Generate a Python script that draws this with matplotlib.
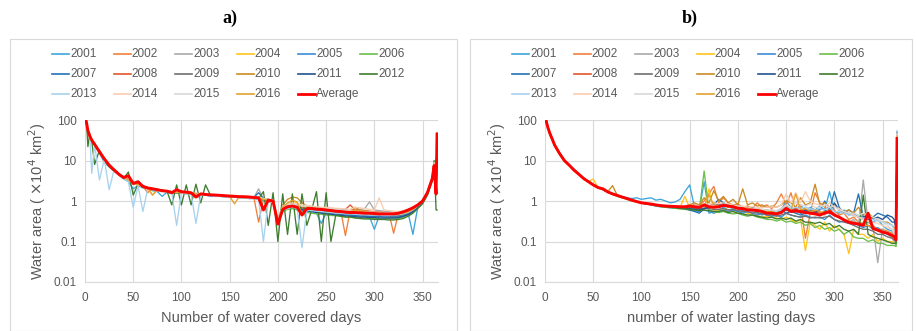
import matplotlib.pyplot as plt
from matplotlib.patches import Rectangle
from matplotlib.lines import Line2D

# day grid shared by every series (both panels)
days = [1, 2, 3, 5, 7, 10, 15, 20, 25, 30,
        35, 40, 45, 50, 55, 60, 65, 70, 75, 80,
        85, 90, 95, 100, 105, 110, 115, 120, 125, 130,
        135, 140, 145, 150, 155, 160, 165, 170, 175, 180,
        185, 190, 195, 200, 205, 210, 215, 220, 225, 230,
        235, 240, 245, 250, 255, 260, 265, 270, 275, 280,
        285, 290, 295, 300, 305, 310, 315, 320, 325, 330,
        335, 340, 345, 350, 355, 360, 362, 364, 365]

years = ['2001', '2002', '2003', '2004', '2005', '2006', '2007', '2008',
         '2009', '2010', '2011', '2012', '2013', '2014', '2015', '2016']
colors = ['#3DA5DC', '#F07F3C', '#A9A9A9', '#FFC51A', '#3D8CD6', '#6DBE4B',
          '#2272B4', '#E2572A', '#707070', '#C98B23', '#22528E', '#3E7C2E',
          '#A8D2EE', '#F9CDB0', '#D8D8D8', '#E3A12F']

# ---- panel a: number of water covered days ----
avg_a = [100, 75, 55, 40, 32, 25, 16.5, 11, 7.7, 5.9,
         4.6, 3.8, 4.2, 2.7, 3.0, 2.3, 2.1, 2.0, 1.9, 1.8,
         1.75, 1.6, 1.9, 1.7, 1.65, 1.6, 1.25, 1.5, 1.45, 1.42,
         1.4, 1.38, 1.35, 1.32, 1.3, 1.28, 1.27, 1.25, 1.22, 1.2,
         0.6, 1.05, 1.0, 0.27, 0.62, 0.72, 0.75, 0.7, 0.45, 0.65,
         0.65, 0.63, 0.62, 0.6, 0.58, 0.56, 0.55, 0.53, 0.52, 0.52,
         0.51, 0.5, 0.5, 0.49, 0.48, 0.48, 0.48, 0.48, 0.5, 0.54,
         0.6, 0.68, 0.8, 1.0, 1.6, 3.5, 7.5, 1.5, 45]
a_2001 = [95, 70, 52, 38, 30, 24, 15, 9, 7, 5.5,
          4.4, 3.5, 3.0, 2.0, 2.4, 2.1, 2.0, 1.8, 1.7, 1.3,
          1.65, 1.5, 1.7, 1.6, 1.5, 1.55, 1.4, 1.45, 1.4, 1.3,
          1.3, 1.3, 1.25, 1.25, 1.25, 1.2, 1.2, 1.15, 1.15, 1.1,
          1.0, 1.0, 0.9, 0.3, 0.6, 0.65, 0.7, 0.6, 0.55, 0.55,
          0.55, 0.5, 0.28, 0.5, 0.48, 0.47, 0.45, 0.45, 0.44, 0.43,
          0.42, 0.42, 0.41, 0.2, 0.42, 0.42, 0.42, 0.42, 0.43, 0.45,
          0.5, 0.15, 0.7, 0.95, 1.6, 3.5, 8, 2, 48]
a_2002 = [100, 78, 56, 41, 33, 26, 17, 11.5, 8, 6,
          4.8, 3.9, 3.3, 2.9, 2.6, 2.3, 1.6, 2.05, 1.95, 1.85,
          1.75, 1.7, 1.65, 1.7, 1.6, 1.6, 1.55, 1.5, 1.45, 1.42,
          1.4, 1.38, 1.35, 1.35, 1.35, 1.32, 1.3, 1.3, 1.25, 0.3,
          1.1, 1.05, 1.0, 0.35, 0.7, 0.8, 0.85, 0.8, 0.7, 0.7,
          0.7, 0.68, 0.68, 0.66, 0.64, 0.62, 0.6, 0.14, 0.6, 0.62,
          0.6, 0.58, 0.56, 0.55, 0.54, 0.53, 0.52, 0.16, 0.5, 0.52,
          0.55, 0.65, 0.8, 1.0, 1.6, 3.8, 8, 1.5, 46]
a_2003 = [100, 74, 54, 40, 31, 25, 16, 11, 7.6, 5.8,
          4.5, 3.8, 3.2, 2.8, 2.5, 2.3, 2.1, 2.0, 1.9, 1.8,
          1.7, 1.6, 1.6, 1.6, 1.55, 1.5, 1.5, 1.45, 1.4, 1.4,
          1.35, 1.35, 1.3, 1.3, 1.3, 1.3, 1.25, 1.25, 1.2, 2.0,
          1.1, 1.05, 1.0, 0.3, 0.65, 0.75, 0.8, 0.75, 0.7, 0.7,
          0.68, 0.66, 0.65, 0.63, 0.62, 0.6, 0.6, 0.58, 0.58, 0.6,
          0.62, 0.65, 0.95, 0.6, 0.58, 0.56, 0.55, 0.52, 0.5, 0.52,
          0.55, 0.65, 0.8, 1.0, 1.7, 4, 9, 1.5, 45]
a_2004 = [100, 76, 55, 40, 32, 25, 16, 11, 7.5, 5.8,
          4.5, 3.7, 3.2, 2.8, 2.5, 2.3, 2.1, 1.4, 1.9, 1.8,
          1.7, 1.65, 1.6, 1.6, 1.55, 1.5, 1.5, 1.45, 1.4, 1.4,
          1.35, 1.3, 1.3, 1.3, 1.25, 1.25, 1.2, 1.2, 1.2, 1.15,
          1.1, 1.0, 0.95, 0.3, 0.7, 0.85, 1.0, 0.9, 0.75, 0.65,
          0.62, 0.6, 0.58, 0.56, 0.55, 0.54, 0.52, 0.5, 0.5, 0.48,
          0.48, 0.47, 0.46, 0.45, 0.45, 0.44, 0.44, 0.44, 0.45, 0.48,
          0.52, 0.6, 0.75, 0.95, 1.5, 3.5, 7, 1.5, 44]
a_2005 = [100, 75, 55, 40, 32, 25, 16.5, 11, 7.7, 6,
          4.6, 3.8, 3.3, 2.8, 2.5, 2.3, 2.1, 2.0, 1.9, 1.8,
          1.75, 1.7, 1.6, 1.65, 1.6, 1.55, 1.5, 1.45, 1.45, 1.4,
          1.4, 1.35, 1.35, 1.3, 1.3, 1.3, 1.25, 1.25, 1.2, 1.2,
          1.1, 1.0, 0.95, 0.35, 0.6, 0.7, 0.72, 0.68, 0.62, 0.6,
          0.58, 0.56, 0.55, 0.53, 0.52, 0.5, 0.5, 0.48, 0.47, 0.46,
          0.46, 0.45, 0.45, 0.44, 0.44, 0.43, 0.43, 0.42, 0.43, 0.46,
          0.5, 0.58, 0.72, 0.92, 1.5, 3.6, 7.5, 1.5, 46]
a_2006 = [100, 75, 55, 40, 31, 24, 16, 10.5, 7.5, 5.7,
          4.5, 3.7, 3.2, 2.8, 2.5, 2.3, 2.1, 2.0, 1.9, 1.8,
          1.7, 1.65, 1.6, 1.6, 1.55, 1.5, 1.5, 1.45, 1.4, 1.4,
          1.35, 1.35, 1.3, 1.3, 1.25, 1.25, 1.2, 1.2, 1.15, 1.15,
          1.05, 0.95, 0.9, 0.3, 0.55, 0.62, 0.65, 0.6, 0.55, 0.52,
          0.5, 0.48, 0.47, 0.45, 0.44, 0.43, 0.42, 0.41, 0.4, 0.39,
          0.38, 0.38, 0.37, 0.37, 0.36, 0.36, 0.36, 0.36, 0.37, 0.4,
          0.45, 0.55, 0.7, 0.9, 1.4, 3.2, 7, 1.4, 44]
a_2007 = [100, 75, 55, 40, 32, 25, 16.5, 11, 7.8, 6,
          4.7, 3.9, 3.3, 2.9, 2.6, 2.35, 2.15, 2.0, 1.9, 1.85,
          1.75, 1.7, 1.65, 1.65, 1.6, 1.55, 1.5, 1.5, 1.45, 1.42,
          1.4, 1.38, 1.35, 1.32, 1.3, 1.3, 1.28, 1.25, 1.22, 1.6,
          1.15, 1.1, 1.05, 0.3, 0.62, 0.7, 0.72, 0.68, 0.62, 0.6,
          0.57, 0.55, 0.53, 0.52, 0.5, 0.48, 0.47, 0.46, 0.45, 0.44,
          0.43, 0.42, 0.42, 0.41, 0.41, 0.4, 0.4, 0.4, 0.4, 0.42,
          0.47, 0.55, 0.7, 0.9, 1.5, 3.5, 7.5, 1.5, 46]
a_2008 = [100, 76, 56, 41, 32, 25, 16.5, 11, 7.7, 5.9,
          4.6, 3.8, 3.3, 2.8, 2.5, 2.3, 2.1, 2.0, 1.9, 1.8,
          1.75, 1.7, 1.65, 1.6, 1.6, 1.55, 1.5, 1.5, 1.45, 1.4,
          1.4, 1.35, 1.35, 1.3, 1.3, 1.3, 1.25, 1.25, 1.2, 1.2,
          1.1, 1.05, 1.0, 0.3, 0.65, 0.72, 0.75, 0.72, 0.68, 0.66,
          0.65, 0.64, 0.62, 0.6, 0.6, 0.58, 0.58, 0.62, 0.8, 0.6,
          0.58, 0.56, 0.55, 0.54, 0.52, 0.52, 0.5, 0.5, 0.5, 0.52,
          0.56, 0.65, 0.8, 1.0, 1.6, 3.8, 8, 1.5, 46]
a_2009 = [100, 75, 55, 40, 32, 25, 16, 11, 7.6, 5.8,
          4.5, 3.8, 3.2, 2.8, 2.5, 2.3, 2.1, 2.0, 1.9, 1.8,
          1.7, 1.65, 1.6, 1.6, 1.55, 1.5, 1.5, 1.45, 1.4, 1.4,
          1.35, 1.35, 1.3, 1.3, 1.3, 1.25, 1.25, 1.2, 1.2, 1.2,
          1.1, 1.0, 0.95, 0.3, 0.6, 0.7, 0.72, 0.7, 0.65, 0.62,
          0.6, 0.58, 0.56, 0.55, 0.53, 0.52, 0.5, 0.5, 0.48, 0.47,
          0.46, 0.46, 0.45, 0.45, 0.44, 0.44, 0.43, 0.43, 0.44, 0.46,
          0.5, 0.58, 0.72, 0.95, 1.5, 3.6, 7.5, 1.5, 45]
a_2010 = [100, 75, 55, 40, 32, 25, 16.5, 11, 7.7, 5.9,
          4.6, 3.8, 3.3, 2.8, 2.5, 2.3, 2.1, 2.0, 1.9, 1.8,
          1.75, 1.7, 1.65, 1.6, 1.55, 1.55, 1.5, 1.5, 1.45, 1.42,
          1.4, 1.35, 1.35, 1.3, 1.3, 1.3, 1.25, 1.25, 1.2, 1.2,
          1.1, 1.0, 1.0, 0.35, 0.8, 1.1, 1.25, 1.2, 0.9, 0.75,
          0.7, 0.68, 0.66, 0.64, 0.62, 0.6, 0.58, 0.56, 0.6, 0.7,
          0.6, 0.56, 0.54, 0.52, 0.5, 0.5, 0.49, 0.48, 0.48, 0.5,
          0.54, 0.62, 0.78, 1.0, 1.6, 3.8, 8, 1.5, 46]
a_2011 = [100, 75, 55, 40, 32, 25, 16.5, 11, 7.7, 5.9,
          4.6, 3.8, 3.3, 2.8, 2.5, 2.3, 2.1, 2.0, 1.9, 1.8,
          1.75, 1.7, 1.65, 1.6, 1.6, 1.55, 1.5, 1.5, 1.45, 1.42,
          1.4, 1.38, 1.35, 1.32, 1.3, 1.3, 1.28, 1.25, 1.22, 1.2,
          1.1, 1.05, 1.0, 0.3, 0.6, 0.68, 0.7, 0.66, 0.6, 0.57,
          0.55, 0.52, 0.5, 0.48, 0.47, 0.45, 0.44, 0.43, 0.42, 0.41,
          0.4, 0.4, 0.39, 0.39, 0.38, 0.38, 0.38, 0.38, 0.39, 0.42,
          0.46, 0.55, 0.7, 0.9, 1.5, 3.5, 7.5, 1.5, 45]
a_2012 = [120, 60, 22, 45, 30, 8, 18, 10, 7, 5.5,
          4.5, 3.6, 5.2, 1.4, 2.6, 2.2, 2.1, 2.0, 1.9, 1.8,
          1.75, 0.8, 2.5, 0.8, 2.5, 0.8, 2.6, 0.9, 2.5, 1.4,
          1.4, 1.35, 1.3, 1.3, 1.3, 1.25, 1.25, 1.2, 1.2, 1.15,
          1.7, 0.25, 1.6, 0.1, 1.5, 0.15, 1.5, 0.15, 1.5, 0.25,
          0.6, 1.7, 0.1, 1.6, 0.1, 0.45, 0.42, 0.4, 0.4, 0.38,
          0.37, 0.36, 0.36, 0.35, 0.35, 0.35, 0.34, 0.34, 0.35, 0.37,
          0.42, 0.5, 0.65, 0.85, 1.4, 3.2, 10, 0.6, 0.6]
a_2013 = [100, 75, 55, 40, 4.8, 25, 3.3, 11, 1.9, 5.6,
          4.4, 3.6, 3.0, 0.7, 2.4, 0.55, 2.0, 1.9, 1.8, 1.7,
          1.7, 1.6, 0.25, 1.6, 1.5, 1.5, 0.28, 1.4, 1.4, 1.35,
          1.3, 1.3, 1.25, 1.25, 1.25, 1.2, 1.2, 1.15, 1.15, 1.1,
          0.1, 1.0, 0.9, 0.3, 0.6, 0.65, 0.7, 0.65, 0.07, 0.6,
          0.58, 0.56, 0.55, 0.53, 0.52, 0.5, 0.5, 0.48, 0.48, 0.47,
          0.46, 0.46, 0.45, 0.45, 0.45, 0.44, 0.44, 0.45, 0.46, 0.48,
          0.52, 0.6, 0.75, 0.95, 1.5, 3.5, 8, 1.5, 47]
a_2014 = [100, 75, 55, 40, 32, 25, 16.5, 11, 7.7, 5.9,
          4.6, 3.8, 3.3, 2.8, 2.5, 2.3, 2.1, 2.0, 1.9, 1.8,
          1.75, 1.7, 1.65, 1.65, 1.6, 1.55, 1.55, 1.5, 1.5, 1.45,
          1.45, 1.42, 1.4, 1.4, 1.38, 1.35, 1.35, 1.3, 1.3, 1.25,
          1.15, 1.1, 1.05, 0.35, 0.75, 0.85, 0.9, 0.85, 0.8, 0.78,
          0.75, 0.72, 0.7, 0.7, 0.68, 0.66, 0.65, 0.64, 0.62, 0.7,
          0.68, 0.65, 0.62, 0.6, 1.2, 0.6, 0.58, 0.56, 0.55, 0.57,
          0.6, 0.68, 0.82, 1.05, 1.7, 4, 9, 1.6, 48]
a_2015 = [100, 75, 55, 40, 32, 25, 16.5, 11, 7.7, 5.9,
          4.6, 3.8, 3.3, 2.8, 2.5, 2.3, 2.1, 2.0, 1.9, 1.8,
          1.75, 1.7, 1.65, 1.6, 1.6, 1.55, 1.5, 1.5, 1.45, 1.42,
          1.4, 1.4, 1.38, 1.36, 1.35, 1.32, 1.3, 1.28, 1.25, 1.22,
          1.12, 1.08, 1.02, 0.3, 0.7, 0.8, 0.82, 0.8, 0.75, 0.72,
          0.7, 0.68, 0.66, 0.65, 0.64, 0.62, 0.6, 0.6, 0.58, 0.57,
          0.56, 0.55, 0.54, 0.53, 0.52, 0.52, 0.51, 0.5, 0.5, 0.52,
          0.56, 0.64, 0.78, 1.0, 1.6, 3.8, 8, 1.5, 46]
a_2016 = [100, 75, 55, 40, 32, 25, 16.5, 11, 7.7, 5.9,
          4.6, 3.8, 3.3, 2.8, 2.5, 2.3, 2.1, 1.4, 1.9, 1.8,
          1.75, 1.7, 1.65, 1.6, 1.6, 1.55, 1.5, 1.5, 1.45, 1.4,
          1.4, 1.35, 1.35, 1.3, 0.85, 1.3, 1.25, 1.25, 1.2, 1.2,
          1.1, 1.05, 1.0, 0.3, 0.7, 0.9, 1.05, 0.95, 0.45, 0.7,
          0.68, 0.66, 0.64, 0.62, 0.6, 0.58, 0.56, 0.55, 0.55, 0.6,
          0.56, 0.54, 0.52, 0.5, 0.5, 0.5, 0.48, 0.48, 0.48, 0.5,
          0.54, 0.62, 0.78, 0.98, 1.6, 3.7, 8, 1.5, 46]

# ---- panel b: number of water lasting days ----
avg_b = [100, 80, 65, 47, 36, 24, 15, 10, 7.7, 5.8,
         4.6, 3.6, 3.0, 2.5, 2.15, 2.0, 1.68, 1.5, 1.37, 1.25,
         1.15, 1.05, 0.97, 0.9, 0.87, 0.84, 0.8, 0.77, 0.75, 0.74,
         0.73, 0.72, 0.72, 0.75, 0.72, 0.7, 0.8, 0.72, 0.7, 0.72,
         0.78, 0.75, 0.72, 0.66, 0.65, 0.6, 0.6, 0.58, 0.55, 0.5,
         0.5, 0.48, 0.52, 0.66, 0.55, 0.57, 0.55, 0.52, 0.5, 0.48,
         0.45, 0.5, 0.55, 0.45, 0.4, 0.34, 0.3, 0.28, 0.27, 0.25,
         0.5, 0.21, 0.19, 0.17, 0.16, 0.14, 0.13, 0.11, 35]
b_2001 = [105, 82, 66, 48, 36, 24, 15, 10, 7.8, 6.2,
          4.7, 3.7, 3.0, 2.5, 2.15, 1.9, 1.68, 1.5, 1.38, 1.28,
          1.2, 1.15, 1.2, 1.1, 1.15, 1.2, 1.05, 1.1, 1.0, 0.9,
          0.95, 1.1, 1.7, 2.5, 0.7, 0.6, 3.0, 0.5, 0.55, 0.6,
          0.7, 0.6, 0.65, 0.55, 0.6, 0.5, 0.55, 0.5, 0.45, 0.5,
          0.45, 0.55, 0.6, 1.0, 0.7, 0.6, 0.8, 0.55, 0.7, 0.6,
          0.75, 0.6, 1.7, 0.55, 0.5, 0.6, 0.45, 0.5, 0.4, 0.35,
          0.4, 0.3, 0.35, 0.25, 0.2, 0.18, 0.15, 0.12, 50]
b_2002 = [100, 80, 65, 47, 36, 24, 15, 10, 7.7, 5.8,
          4.6, 3.6, 3.0, 2.5, 2.15, 1.9, 1.68, 1.5, 1.37, 1.25,
          1.15, 1.05, 0.97, 0.9, 0.87, 0.84, 0.8, 0.78, 0.75, 0.74,
          0.74, 0.73, 0.75, 0.78, 0.8, 0.75, 1.0, 1.5, 2.3, 0.9,
          1.2, 0.9, 0.8, 0.85, 0.7, 0.75, 0.65, 0.9, 0.7, 0.8,
          0.65, 0.9, 1.5, 0.8, 1.6, 0.6, 0.8, 0.12, 0.5, 1.6,
          0.9, 0.7, 0.6, 0.6, 0.45, 0.5, 0.35, 0.4, 0.3, 0.28,
          0.3, 0.25, 0.2, 0.2, 0.18, 0.16, 0.14, 0.12, 45]
b_2003 = [100, 80, 65, 47, 36, 24, 15, 10, 7.7, 5.8,
          4.6, 3.6, 3.0, 2.5, 2.15, 1.9, 1.68, 1.5, 1.37, 1.25,
          1.15, 1.05, 0.97, 0.9, 0.87, 0.84, 0.8, 0.77, 0.75, 0.74,
          0.73, 0.72, 0.72, 0.73, 0.72, 0.7, 0.72, 0.75, 0.8, 0.7,
          0.75, 0.72, 0.7, 0.65, 0.6, 0.62, 0.55, 0.6, 0.55, 0.5,
          0.55, 0.5, 0.6, 0.7, 0.6, 0.5, 0.55, 0.6, 0.5, 0.5,
          0.55, 0.45, 0.6, 0.5, 0.4, 0.35, 0.3, 0.35, 0.25, 3.3,
          0.3, 0.25, 0.03, 0.2, 0.15, 0.12, 0.1, 0.08, 40]
b_2004 = [100, 80, 65, 47, 36, 24, 15, 10, 7.7, 5.8,
          4.6, 3.6, 3.0, 3.5, 2.1, 1.9, 1.68, 1.5, 1.37, 1.25,
          1.15, 1.05, 0.97, 0.9, 0.86, 0.82, 0.78, 0.75, 0.72, 0.7,
          0.75, 0.7, 1.3, 0.68, 0.6, 0.65, 0.6, 2.0, 0.55, 0.6,
          0.65, 0.6, 0.55, 0.5, 0.55, 0.5, 0.45, 0.45, 0.4, 0.42,
          0.4, 0.38, 0.35, 0.4, 0.35, 0.3, 0.35, 0.06, 0.3, 0.25,
          0.2, 0.3, 0.18, 0.25, 0.2, 0.15, 0.05, 0.2, 0.15, 0.15,
          0.12, 0.15, 0.1, 0.12, 0.1, 0.1, 0.09, 0.09, 30]
b_2005 = [100, 80, 65, 47, 36, 24, 15, 10, 7.7, 5.8,
          4.6, 3.6, 3.0, 2.5, 2.15, 1.9, 1.68, 1.5, 1.37, 1.25,
          1.15, 1.05, 0.97, 0.9, 0.85, 0.8, 0.75, 0.72, 0.7, 0.68,
          0.66, 0.65, 0.64, 0.6, 0.58, 0.55, 0.6, 0.55, 0.5, 0.55,
          0.6, 0.55, 0.6, 0.55, 0.5, 0.55, 0.5, 0.45, 0.5, 0.45,
          0.42, 0.45, 0.4, 0.5, 0.45, 0.42, 0.4, 0.45, 0.4, 0.38,
          0.4, 0.35, 0.45, 0.35, 0.3, 0.32, 0.28, 0.3, 0.25, 0.22,
          0.25, 0.2, 0.22, 0.18, 0.15, 0.14, 0.13, 0.11, 45]
b_2006 = [100, 80, 65, 47, 36, 24, 15, 10, 7.7, 5.8,
          4.6, 3.6, 3.0, 2.5, 2.15, 1.9, 1.65, 1.45, 1.3, 1.2,
          1.1, 1.0, 0.95, 0.88, 0.84, 0.8, 0.76, 0.72, 0.7, 0.68,
          0.66, 0.64, 0.62, 0.6, 0.58, 0.6, 5.5, 0.6, 0.55, 0.52,
          0.55, 0.5, 0.48, 0.5, 0.45, 0.42, 0.45, 0.4, 0.38, 0.35,
          0.35, 0.32, 0.35, 0.3, 0.32, 0.28, 0.3, 0.25, 0.28, 0.22,
          0.25, 0.2, 0.22, 0.18, 0.2, 0.15, 0.18, 0.13, 0.12, 0.12,
          0.1, 0.11, 0.09, 0.09, 0.08, 0.08, 0.08, 0.075, 40]
b_2007 = [100, 80, 65, 47, 36, 24, 15.5, 10.5, 7.9, 6,
          4.7, 3.7, 3.0, 2.5, 2.15, 1.9, 1.68, 1.5, 1.37, 1.25,
          1.15, 1.05, 0.97, 0.9, 0.87, 0.84, 0.8, 0.77, 0.75, 0.72,
          0.7, 0.68, 0.66, 0.6, 0.55, 0.5, 0.65, 0.7, 0.8, 1.1,
          0.9, 0.75, 0.8, 0.7, 0.6, 0.65, 0.6, 0.55, 0.6, 0.5,
          0.55, 0.5, 0.6, 0.5, 0.55, 0.5, 0.45, 0.5, 0.6, 0.55,
          0.6, 1.0, 0.6, 1.7, 0.7, 0.5, 0.6, 0.5, 1.5, 0.4,
          0.35, 0.4, 0.5, 0.45, 0.4, 0.3, 0.3, 0.25, 50]
b_2008 = [100, 80, 65, 47, 36, 24, 15, 10, 7.7, 5.8,
          4.6, 3.6, 3.0, 2.5, 2.15, 2.0, 1.68, 1.5, 1.37, 1.25,
          1.15, 1.05, 0.97, 0.9, 0.87, 0.84, 0.8, 0.77, 0.75, 0.74,
          0.73, 0.72, 0.72, 0.74, 0.75, 0.72, 0.8, 0.75, 0.9, 0.8,
          0.85, 0.7, 0.75, 0.7, 0.65, 0.7, 0.6, 0.65, 0.6, 0.55,
          0.6, 0.55, 0.65, 0.8, 0.6, 0.65, 0.55, 0.6, 0.5, 0.55,
          0.5, 0.55, 0.5, 0.45, 0.4, 0.35, 0.3, 0.3, 0.28, 0.25,
          0.25, 0.22, 0.2, 0.18, 0.16, 0.14, 0.13, 0.12, 40]
b_2009 = [100, 80, 65, 47, 36, 24, 15, 10, 7.7, 5.8,
          4.6, 3.6, 3.0, 2.5, 2.15, 1.9, 1.68, 1.5, 1.37, 1.25,
          1.15, 1.05, 0.97, 0.9, 0.86, 0.82, 0.78, 0.76, 0.74, 0.72,
          0.7, 0.7, 0.68, 0.68, 0.66, 0.65, 0.66, 0.65, 0.62, 0.62,
          0.65, 0.6, 0.62, 0.58, 0.55, 0.55, 0.5, 0.52, 0.48, 0.45,
          0.45, 0.42, 0.45, 0.5, 0.45, 0.42, 0.4, 0.42, 0.38, 0.4,
          0.38, 0.4, 0.42, 0.35, 0.32, 0.3, 0.28, 0.25, 0.22, 0.2,
          0.2, 0.18, 0.15, 0.15, 0.13, 0.12, 0.11, 0.1, 42]
b_2010 = [100, 80, 65, 47, 36, 24, 15, 10, 7.7, 5.8,
          4.6, 3.6, 3.0, 2.5, 2.15, 1.9, 1.68, 2.4, 1.37, 1.25,
          1.15, 1.05, 0.97, 0.9, 0.87, 0.84, 0.8, 0.78, 0.76, 0.75,
          0.74, 0.74, 0.75, 0.8, 0.9, 0.8, 1.2, 0.9, 1.8, 1.0,
          1.3, 0.9, 1.1, 0.8, 2.0, 0.8, 0.9, 0.75, 0.8, 0.7,
          0.75, 0.7, 0.8, 1.0, 0.9, 0.7, 1.2, 0.8, 0.9, 2.6,
          0.8, 0.9, 0.7, 0.8, 0.6, 0.55, 0.6, 0.5, 0.7, 0.45,
          0.5, 0.4, 0.35, 0.3, 0.3, 0.25, 0.22, 0.2, 45]
b_2011 = [100, 80, 65, 47, 36, 24, 15, 10, 7.7, 5.8,
          4.6, 3.6, 3.0, 2.5, 2.15, 1.9, 1.68, 1.5, 1.37, 1.25,
          1.15, 1.05, 0.97, 0.9, 0.87, 0.84, 0.8, 0.77, 0.75, 0.72,
          0.7, 0.68, 0.66, 0.65, 0.62, 0.6, 0.65, 0.7, 0.75, 0.8,
          0.9, 0.8, 0.7, 0.75, 0.65, 0.6, 0.7, 0.6, 0.55, 0.6,
          0.55, 0.5, 0.55, 0.6, 0.55, 0.6, 0.5, 0.6, 0.55, 0.5,
          0.65, 0.6, 0.5, 0.9, 0.6, 0.55, 0.5, 0.45, 0.4, 0.4,
          0.45, 0.35, 0.4, 0.35, 0.45, 0.4, 0.35, 0.2, 48]
b_2012 = [100, 80, 65, 47, 36, 24, 15, 10, 7.7, 5.8,
          4.6, 3.6, 3.0, 2.5, 2.15, 1.9, 1.68, 1.5, 1.37, 1.25,
          1.15, 1.05, 0.97, 0.9, 0.86, 0.82, 0.78, 0.75, 0.72, 0.7,
          0.68, 0.66, 0.64, 0.62, 0.6, 0.58, 0.6, 0.58, 0.55, 0.55,
          0.58, 0.52, 0.55, 0.5, 0.48, 0.45, 0.45, 0.42, 0.4, 0.38,
          0.4, 0.36, 0.38, 0.35, 0.38, 0.32, 0.35, 0.3, 0.3, 0.28,
          0.3, 0.26, 0.28, 0.22, 0.25, 0.2, 0.18, 0.2, 0.15, 1.4,
          0.15, 0.13, 0.12, 0.11, 0.1, 0.09, 0.09, 0.09, 42]
b_2013 = [100, 80, 65, 47, 36, 24, 15, 10, 7.7, 5.8,
          4.6, 3.6, 3.0, 2.5, 2.15, 1.9, 1.68, 1.5, 1.37, 1.25,
          1.15, 1.05, 0.97, 0.9, 0.87, 0.84, 0.8, 0.78, 0.76, 0.75,
          0.74, 0.74, 0.75, 0.76, 0.75, 0.72, 0.75, 0.8, 0.75, 0.72,
          0.75, 0.72, 0.7, 0.68, 0.65, 0.66, 0.62, 0.62, 0.6, 0.58,
          0.58, 0.55, 0.6, 0.7, 0.65, 0.7, 0.65, 0.7, 0.65, 0.6,
          0.65, 0.6, 0.7, 0.55, 0.55, 0.5, 0.45, 0.45, 0.4, 0.38,
          0.38, 0.35, 0.32, 0.3, 0.28, 0.25, 0.2, 0.15, 55]
b_2014 = [100, 80, 65, 47, 36, 24, 15, 10, 7.7, 5.8,
          4.6, 3.6, 3.0, 2.5, 2.15, 1.9, 1.68, 1.5, 1.37, 1.25,
          1.15, 1.05, 0.97, 0.9, 0.87, 0.84, 0.8, 0.78, 0.76, 0.75,
          0.75, 0.75, 0.76, 0.78, 0.78, 0.75, 0.8, 0.85, 0.9, 0.85,
          0.9, 0.85, 0.8, 0.75, 0.75, 0.7, 0.72, 0.7, 0.68, 0.7,
          0.72, 0.7, 0.8, 1.5, 0.9, 1.6, 0.9, 1.7, 1.0, 0.85,
          0.8, 0.75, 0.9, 0.7, 0.65, 0.55, 0.5, 0.45, 0.4, 0.35,
          0.32, 0.3, 0.28, 0.25, 0.22, 0.2, 0.18, 0.15, 45]
b_2015 = [100, 80, 65, 47, 36, 24, 15, 10, 7.7, 5.8,
          4.6, 3.6, 3.0, 2.5, 2.15, 1.9, 1.68, 1.5, 1.37, 1.25,
          1.15, 1.05, 0.97, 0.9, 0.87, 0.84, 0.8, 0.78, 0.76, 0.75,
          0.74, 0.74, 0.75, 0.76, 0.76, 0.74, 0.76, 0.8, 0.78, 0.76,
          0.8, 0.78, 0.75, 0.72, 0.7, 0.68, 0.66, 0.65, 0.62, 0.6,
          0.6, 0.58, 0.65, 0.8, 0.7, 0.9, 0.8, 0.75, 0.85, 0.7,
          0.7, 0.8, 0.7, 0.75, 0.6, 0.55, 0.5, 0.5, 0.45, 0.5,
          0.45, 0.4, 0.35, 0.3, 0.25, 0.2, 0.15, 0.12, 45]
b_2016 = [100, 80, 65, 47, 36, 24, 15, 10, 7.7, 5.8,
          4.6, 3.6, 3.0, 2.5, 2.15, 1.9, 1.68, 1.5, 1.37, 1.25,
          1.15, 1.05, 0.97, 0.9, 0.87, 0.84, 0.8, 0.77, 0.75, 0.74,
          0.73, 0.72, 0.72, 0.74, 0.74, 0.72, 0.75, 1.4, 0.8, 0.75,
          0.8, 0.7, 0.75, 0.7, 0.65, 0.68, 0.6, 0.62, 0.58, 0.55,
          0.55, 0.5, 0.55, 0.65, 0.6, 1.5, 0.6, 0.65, 0.55, 0.6,
          0.55, 0.5, 0.6, 0.45, 0.4, 0.35, 0.32, 0.3, 0.28, 0.25,
          0.25, 0.22, 0.2, 0.18, 0.16, 0.14, 0.12, 0.11, 40]

series_a = [a_2001, a_2002, a_2003, a_2004, a_2005, a_2006, a_2007, a_2008,
            a_2009, a_2010, a_2011, a_2012, a_2013, a_2014, a_2015, a_2016]
series_b = [b_2001, b_2002, b_2003, b_2004, b_2005, b_2006, b_2007, b_2008,
            b_2009, b_2010, b_2011, b_2012, b_2013, b_2014, b_2015, b_2016]

txt = '#595959'
grid_c = '#D9D9D9'
plt.rcParams['font.family'] = ['Liberation Sans', 'DejaVu Sans']

fig = plt.figure(figsize=(9.17, 3.31), dpi=100)
W, H = 917, 331

# chart-area frames
fig.patches.append(Rectangle((10 / W, 0), 447 / W, 1 - 39 / H, transform=fig.transFigure,
                             fill=False, edgecolor=grid_c, lw=0.8))
fig.patches.append(Rectangle((470 / W, 0), 442 / W, 1 - 39 / H, transform=fig.transFigure,
                             fill=False, edgecolor=grid_c, lw=0.8))


def draw(left_px, series, avg, xlabel, title, title_x, leg_x):
    ax = fig.add_axes([left_px / W, 1 - 282 / H, 353 / W, 162 / H])
    for vals, c, y in zip(series, colors, years):
        ax.plot(days, vals, color=c, lw=0.95)
    ax.plot(days, avg, color='#FF0000', lw=2.1)
    ax.set_yscale('log')
    ax.set_ylim(0.01, 100)
    ax.set_xlim(0, 366)
    ax.set_xticks(range(0, 351, 50))
    ax.set_yticks([0.01, 0.1, 1, 10, 100])
    ax.set_yticklabels(['0.01', '0.1', '1', '10', '100'])
    ax.minorticks_off()
    ax.grid(True, color=grid_c, lw=0.8)
    ax.set_axisbelow(True)
    for s in ['top', 'right', 'left']:
        ax.spines[s].set_visible(False)
    ax.spines['bottom'].set_color(grid_c)
    ax.tick_params(length=0, colors=txt, labelsize=8.5)
    ax.tick_params(axis='x', pad=7)
    ax.tick_params(axis='y', pad=6)
    ax.set_xlabel(xlabel, color=txt, fontsize=10.5, labelpad=5)
    ax.set_ylabel(r'Water area ( $\times$10$^4$ km$^2$)', color=txt, fontsize=10.5, labelpad=4)

    # legend laid out row by row, six entries per row, like the Excel original
    labels = years + ['Average']
    lcolors = colors + ['#FF0000']
    for i, (lab, c) in enumerate(zip(labels, lcolors)):
        row, col = divmod(i, 6)
        x0 = leg_x + col * 61.6
        y0 = 54 + row * 20
        fig.add_artist(Line2D([x0 / W, (x0 + 17) / W], [1 - y0 / H, 1 - y0 / H],
                              color=c, lw=2.0 if lab == 'Average' else 1.2,
                              transform=fig.transFigure))
        fig.text((x0 + 18) / W, 1 - y0 / H, lab, color=txt, fontsize=8.5,
                 ha='left', va='center')

    fig.text(title_x / W, 1 - 18 / H, title, ha='center', va='center',
             fontsize=13, fontweight='bold', family='Liberation Serif')
    return ax


draw(85, series_a, avg_a, 'Number of water covered days', 'a)', 230, 52)
draw(545, series_b, avg_b, 'number of water lasting days', 'b)', 690, 512)

fig.savefig('out.png', dpi=100, facecolor='white')
